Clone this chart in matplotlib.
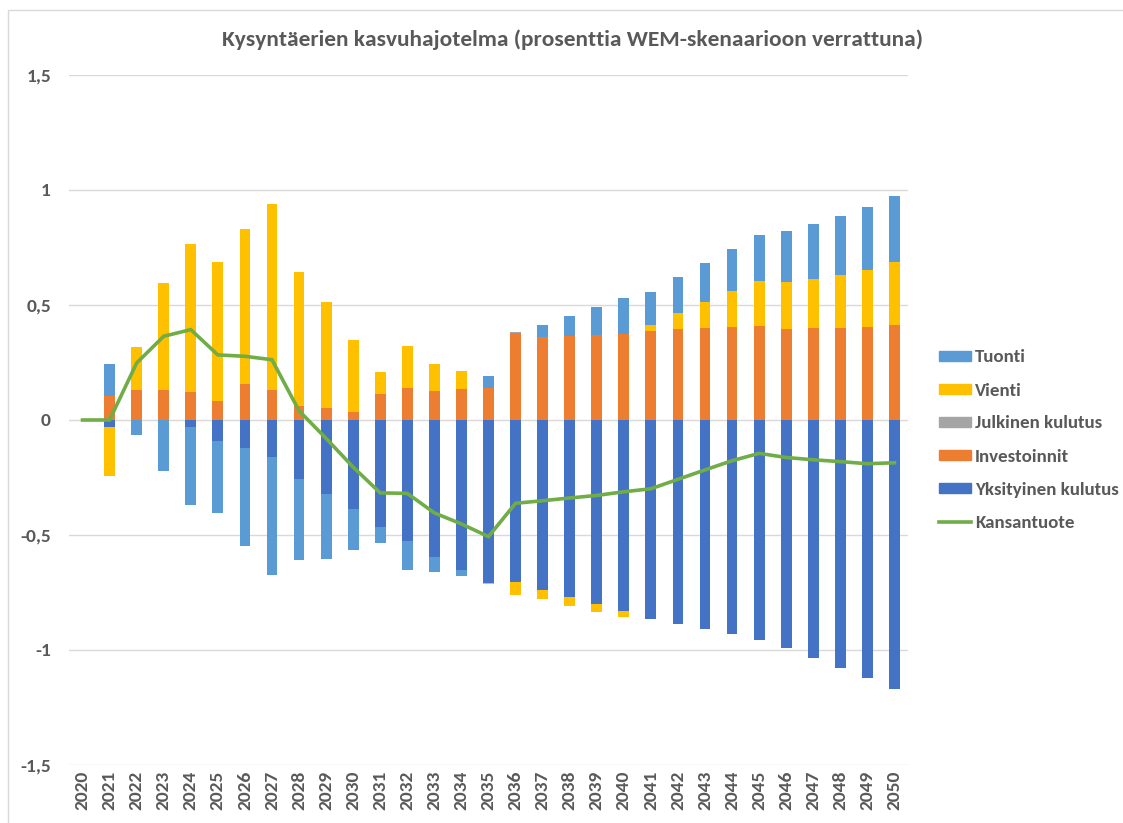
import numpy as np
import matplotlib
matplotlib.use("Agg")
from matplotlib import pyplot as plt
from matplotlib.patches import Patch, Rectangle
from matplotlib.lines import Line2D

plt.rcParams['font.family'] = ['Carlito', 'Liberation Sans Narrow', 'Liberation Sans', 'DejaVu Sans']

years = [str(y) for y in range(2020, 2051)]

yksityinen = [0, -0.029, 0, 0, -0.032, -0.090, -0.122, -0.160, -0.257, -0.322, -0.386,
              -0.465, -0.526, -0.594, -0.651, -0.707, -0.703, -0.738, -0.768, -0.800, -0.831,
              -0.867, -0.887, -0.910, -0.932, -0.958, -0.991, -1.035, -1.078, -1.123, -1.171]
investoinnit = [0, 0.104, 0.130, 0.130, 0.122, 0.081, 0.155, 0.130, 0.062, 0.051, 0.033,
                0.111, 0.137, 0.126, 0.135, 0.137, 0.378, 0.361, 0.367, 0.370, 0.374,
                0.386, 0.394, 0.400, 0.404, 0.409, 0.397, 0.400, 0.401, 0.404, 0.412]
julkinen = [0, 0, 0, 0, 0, 0, 0, 0, 0, 0, 0,
            0, 0, 0, 0, 0, 0.005, 0, 0, 0, 0,
            0, 0, 0, 0, 0, 0, 0, 0, 0, 0]
vienti = [0, -0.214, 0.189, 0.464, 0.645, 0.606, 0.674, 0.807, 0.580, 0.460, 0.316,
          0.098, 0.186, 0.116, 0.076, -0.006, -0.057, -0.042, -0.041, -0.035, -0.027,
          0.026, 0.071, 0.113, 0.155, 0.197, 0.204, 0.214, 0.231, 0.248, 0.274]
tuonti = [0, 0.139, -0.067, -0.223, -0.336, -0.313, -0.427, -0.514, -0.352, -0.281, -0.179,
          -0.071, -0.128, -0.067, -0.026, 0.053, 0, 0.051, 0.087, 0.123, 0.158,
          0.145, 0.155, 0.170, 0.186, 0.198, 0.219, 0.238, 0.255, 0.273, 0.288]
kansantuote = [0, 0, 0.248, 0.364, 0.393, 0.283, 0.277, 0.262, 0.04, -0.08, -0.205,
               -0.317, -0.319, -0.404, -0.452, -0.507, -0.362, -0.351, -0.339, -0.328, -0.312,
               -0.299, -0.258, -0.217, -0.177, -0.145, -0.163, -0.173, -0.181, -0.190, -0.186]

# stacking order as in Excel (first series nearest zero)
series = [("Yksityinen kulutus", yksityinen, "#4472C4"),
          ("Investoinnit", investoinnit, "#ED7D31"),
          ("Julkinen kulutus", julkinen, "#A5A5A5"),
          ("Vienti", vienti, "#FFC000"),
          ("Tuonti", tuonti, "#5B9BD5")]
line_color = "#70AD47"
text_color = "#595959"

fig = plt.figure(figsize=(11.23, 8.23), dpi=100)
ax = fig.add_axes([69 / 1123, 1 - 765 / 823, (908 - 69) / 1123, (765 - 75) / 823])

x = np.arange(len(years))
pos = np.zeros(len(years))
neg = np.zeros(len(years))
for name, vals, col in series:
    v = np.array(vals, dtype=float)
    bottom = np.where(v >= 0, pos, neg)
    ax.bar(x, v, width=0.4, bottom=bottom, color=col, edgecolor="none", zorder=2)
    pos = pos + np.where(v >= 0, v, 0)
    neg = neg + np.where(v < 0, v, 0)

ax.plot(x, kansantuote, color=line_color, lw=2.6, zorder=3, solid_joinstyle="miter")

ax.set_xlim(-0.5, len(years) - 0.5)
ax.set_ylim(-1.5, 1.5)
yt = [-1.5, -1, -0.5, 0, 0.5, 1, 1.5]
ax.set_yticks(yt)
ax.set_yticklabels(["-1,5", "-1", "-0,5", "0", "0,5", "1", "1,5"])
ax.set_xticks(x)
ax.set_xticklabels(years, rotation=90)
ax.tick_params(axis="both", length=0, labelcolor=text_color, labelsize=14)
ax.tick_params(axis="y", pad=13)
ax.tick_params(axis="x", pad=4)
for lab in ax.get_xticklabels() + ax.get_yticklabels():
    lab.set_fontweight("bold")
for s in ax.spines.values():
    s.set_visible(False)
ax.yaxis.grid(True, color="#D9D9D9", lw=1, zorder=0)
ax.set_axisbelow(True)

fig.text(572 / 1123, 1 - 40 / 823, "Kysyntäerien kasvuhajotelma (prosenttia WEM-skenaarioon verrattuna)",
         ha="center", va="center", fontsize=16.8, fontweight="bold", color=text_color)

handles = [Patch(color=c) for _, _, c in series[::-1]]
labels = [n for n, _, _ in series[::-1]]
handles.append(Line2D([0], [0], color=line_color, lw=2.6))
labels.append("Kansantuote")
leg = fig.legend(handles, labels, loc="center left", bbox_to_anchor=(922 / 1123, 1 - 440 / 823),
                 frameon=False, fontsize=13.6, handlelength=1.7, handleheight=0.45,
                 handletextpad=0.2, labelspacing=0.9, labelcolor=text_color)
for t in leg.get_texts():
    t.set_fontweight("bold")

fig.patches.append(Rectangle((8 / 1123, -0.01), 1.5, 1 - 10 / 823 + 0.01, transform=fig.transFigure,
                             fill=False, edgecolor="#D9D9D9", lw=1))

fig.savefig("out.png", dpi=100)
